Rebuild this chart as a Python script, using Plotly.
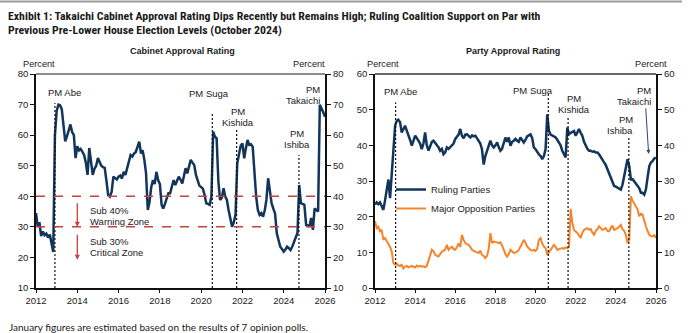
import pandas as pd
import plotly.graph_objects as go

# ---------------- DATA ----------------
months = pd.date_range("2012-01-01", "2026-01-01", freq="MS")  # monthly, Jan 2012 .. Jan 2026

cabinet_approval = [
    # 2012
    34.5, 30.0, 31.5, 27.0, 28.5, 27.3, 27.8, 26.5, 27.5, 25.0, 21.8, 60.0,
    # 2013
    68.0, 70.0, 69.8, 68.5, 64.0, 58.0, 59.5, 61.5, 63.5, 61.0, 60.0, 52.5,
    # 2014
    56.4, 55.0, 55.5, 54.5, 53.5, 51.0, 47.0, 55.8, 51.0, 47.0, 49.0, 50.0,
    # 2015
    52.5, 51.0, 50.0, 49.5, 49.3, 45.0, 40.4, 39.9, 41.5, 46.4, 46.0, 45.5,
    # 2016
    46.4, 46.8, 45.8, 48.0, 47.0, 49.5, 51.0, 53.5, 53.0, 54.0, 54.5, 56.0,
    # 2017
    57.9, 54.0, 55.1, 52.0, 47.6, 35.5, 38.0, 43.0, 45.3, 44.0, 48.0, 45.3,
    # 2018
    44.0, 37.2, 36.0, 37.5, 39.5, 41.0, 41.0, 43.5, 45.3, 43.7, 45.0, 46.4,
    # 2019
    45.5, 44.2, 46.5, 49.2, 47.5, 49.5, 51.9, 51.0, 50.2, 47.0, 44.8, 43.5,
    # 2020
    43.0, 42.5, 40.5, 37.7, 37.5, 37.2, 39.9, 61.1, 59.5, 59.0, 45.0, 38.8,
    # 2021
    39.5, 42.6, 40.0, 38.8, 35.5, 32.5, 30.0, 31.5, 34.0, 50.8, 54.5, 56.5,
    # 2022
    57.3, 52.4, 55.5, 58.4, 56.8, 57.0, 56.2, 46.0, 39.9, 35.5, 33.9, 34.5,
    # 2023
    33.3, 35.5, 38.8, 45.9, 42.0, 37.7, 36.0, 34.4, 27.9, 25.5, 23.5, 22.8,
    # 2024
    21.9, 22.6, 23.5, 23.0, 22.4, 23.6, 25.1, 26.8, 28.0, 43.7, 37.7, 37.5,
    # 2025
    37.2, 30.6, 30.5, 30.0, 32.9, 29.0, 36.0, 35.5, 35.0, 69.9, 68.9, 67.5,
    # 2026
    66.0,
]

ruling_parties = [
    # 2012
    23.4, 24.0, 23.5, 24.0, 23.0, 21.9, 24.5, 27.0, 30.4, 25.2, 32.0, 40.0,
    # 2013
    45.5, 46.9, 47.2, 46.5, 43.6, 44.5, 45.5, 44.1, 43.0, 41.5, 39.9, 41.5,
    # 2014
    42.7, 42.0, 41.3, 40.5, 38.9, 40.5, 43.6, 40.0, 38.5, 40.0, 41.0, 41.3,
    # 2015
    40.8, 40.0, 39.5, 38.5, 39.0, 37.5, 38.0, 39.4, 39.0, 39.5, 39.9, 40.5,
    # 2016
    41.8, 42.5, 43.0, 44.6, 42.7, 42.0, 43.0, 43.1, 42.5, 42.2, 42.8, 42.5,
    # 2017
    42.7, 42.0, 41.3, 40.5, 38.9, 34.6, 37.0, 38.5, 40.0, 41.3, 40.0, 39.4,
    # 2018
    40.0, 40.8, 39.5, 38.5, 39.0, 40.5, 42.2, 41.0, 42.2, 39.9, 41.0, 41.3,
    # 2019
    41.8, 41.3, 41.0, 42.2, 41.5, 40.8, 41.5, 42.5, 42.8, 43.1, 42.0, 39.4,
    # 2020
    38.9, 38.0, 37.5, 37.0, 36.1, 37.0, 38.9, 48.7, 44.0, 43.0, 42.7, 42.5,
    # 2021
    42.2, 41.5, 40.8, 40.0, 38.5, 37.5, 36.6, 45.0, 43.1, 43.5, 43.8, 44.0,
    # 2022
    42.7, 43.5, 44.6, 43.5, 42.7, 41.0, 39.9, 39.0, 38.5, 38.5, 38.2, 38.3,
    # 2023
    38.0, 38.0, 37.5, 36.6, 35.8, 35.2, 34.5, 33.3, 32.5, 31.4, 30.0, 28.6,
    # 2024
    28.4, 28.2, 27.8, 27.6, 29.0, 31.4, 33.5, 36.1, 34.2, 30.4, 30.5, 29.9,
    # 2025
    29.5, 28.6, 28.0, 26.7, 26.7, 26.2, 27.6, 31.0, 34.2, 35.2, 35.6, 36.3,
    # 2026
    36.6,
]

opposition_parties = [
    # 2012
    18.7, 16.8, 17.2, 15.9, 16.3, 13.5, 14.0, 13.2, 12.6, 11.5, 10.2, 7.0,
    # 2013
    6.5, 6.8, 6.3, 6.2, 6.5, 5.5, 6.0, 6.2, 5.8, 6.0, 6.2, 5.9,
    # 2014
    5.8, 6.3, 6.0, 6.2, 6.0, 6.1, 5.8, 6.2, 7.9, 9.5, 10.7, 10.3,
    # 2015
    9.3, 9.0, 8.8, 9.5, 10.2, 10.5, 10.8, 12.1, 10.7, 11.2, 11.6, 10.9,
    # 2016
    10.7, 11.5, 12.5, 11.5, 14.9, 13.5, 12.6, 12.3, 12.1, 11.5, 10.7, 10.4,
    # 2017
    10.2, 10.0, 9.8, 10.5, 9.3, 9.0, 8.4, 9.0, 11.0, 15.4, 12.6, 13.0,
    # 2018
    13.0, 12.8, 12.6, 12.8, 12.0, 10.7, 9.5, 8.8, 9.5, 10.7, 10.2, 9.8,
    # 2019
    10.0, 10.2, 10.7, 11.5, 12.5, 13.5, 12.8, 11.6, 11.0, 10.7, 10.5, 10.7,
    # 2020
    10.4, 11.0, 13.5, 14.0, 12.5, 11.6, 11.2, 9.3, 10.0, 10.7, 11.5, 12.1,
    # 2021
    11.5, 10.7, 10.9, 11.0, 11.2, 11.0, 11.4, 11.2, 11.5, 22.2, 18.2, 16.3,
    # 2022
    15.9, 15.4, 14.8, 14.0, 15.5, 16.3, 16.6, 16.8, 16.3, 16.5, 15.5, 14.9,
    # 2023
    16.0, 16.5, 17.3, 16.8, 16.3, 16.5, 16.8, 16.0, 15.9, 16.8, 17.5, 16.3,
    # 2024
    16.5, 16.8, 17.2, 17.7, 16.5, 16.0, 14.9, 12.6, 13.5, 25.7, 24.5, 23.8,
    # 2025
    22.9, 22.0, 20.1, 20.8, 20.6, 18.5, 17.3, 16.0, 14.9, 14.5, 14.5, 14.8,
    # 2026
    14.0,
]

pm_names = ["Abe", "Suga", "Kishida", "Ishiba"]
pm_dates_cabinet = ["2012-12-01", "2020-07-17", "2021-09-20", "2024-09-27"]
pm_dates_party = ["2013-01-10", "2020-08-20", "2021-08-15", "2024-08-25"]

zone_levels = [40, 30]
year_ticks = [str(y) for y in range(2012, 2027, 2)]

# ---------------- STYLE ----------------
NAVY = "#12355b"
ORANGE = "#f5842a"
RED = "#c8413f"
TXT = "#1a1a1a"
FONT = "Liberation Sans, Arial, sans-serif"

W, H = 690, 333
def px_x(p): return p / W
def px_y(p): return 1 - p / H

L_DOM = [px_x(36), px_x(325)]
R_DOM = [px_x(375), px_x(656)]
Y_DOM = [px_y(288), px_y(74)]

fig = go.Figure()

# cabinet
fig.add_trace(go.Scatter(x=months, y=cabinet_approval, mode="lines",
                         line=dict(color=NAVY, width=2.5), xaxis="x", yaxis="y",
                         showlegend=False, hoverinfo="skip"))
fig.add_trace(go.Scatter(x=months, y=cabinet_approval, mode="lines",
                         line=dict(color="rgba(0,0,0,0)", width=0), xaxis="x", yaxis="y2",
                         showlegend=False, hoverinfo="skip"))
# party
fig.add_trace(go.Scatter(x=months, y=ruling_parties, mode="lines", name="Ruling Parties",
                         line=dict(color=NAVY, width=2.5), xaxis="x2", yaxis="y3"))
fig.add_trace(go.Scatter(x=months, y=opposition_parties, mode="lines",
                         name="Major Opposition Parties",
                         line=dict(color=ORANGE, width=2), xaxis="x2", yaxis="y3"))
fig.add_trace(go.Scatter(x=months, y=ruling_parties, mode="lines",
                         line=dict(color="rgba(0,0,0,0)", width=0), xaxis="x2", yaxis="y4",
                         showlegend=False, hoverinfo="skip"))

# PM dotted lines
cab_tops = [70.5, 67, 62, 53.5]
party_tops = [52, 54.4, 48, 42.3]
for d, top in zip(pm_dates_cabinet, cab_tops):
    fig.add_trace(go.Scatter(x=[d, d], y=[10, top], mode="lines", xaxis="x", yaxis="y",
                             line=dict(color="#111", width=1.2, dash="2px,2px"),
                             showlegend=False, hoverinfo="skip"))
for d, top in zip(pm_dates_party, party_tops):
    fig.add_trace(go.Scatter(x=[d, d], y=[0, top], mode="lines", xaxis="x2", yaxis="y3",
                             line=dict(color="#111", width=1.2, dash="2px,2px"),
                             showlegend=False, hoverinfo="skip"))

# red zone lines
for lv in zone_levels:
    fig.add_trace(go.Scatter(x=[months[0], months[-1]], y=[lv, lv], mode="lines",
                             xaxis="x", yaxis="y",
                             line=dict(color=RED, width=1.5, dash="dash"),
                             showlegend=False, hoverinfo="skip"))

tick_dates = [f"{y}-01-01" for y in year_ticks]
xcommon = dict(type="date", range=["2012-01-01", "2026-01-01"], tickvals=tick_dates,
               ticktext=year_ticks, showline=True, linecolor="#111", linewidth=1.5,
               ticks="outside", ticklen=3, tickcolor="#111", showgrid=False,
               zeroline=False, automargin=False,
               tickfont=dict(family=FONT, size=9.5, color=TXT))
ycommon = dict(showline=True, linecolor="#111", linewidth=1.5, ticks="outside", ticklen=4,
               tickcolor="#111", showgrid=False, zeroline=False, automargin=False,
               tickfont=dict(family=FONT, size=9.5, color=TXT))

fig.update_layout(
    width=W, height=H, margin=dict(l=0, r=0, t=0, b=0, autoexpand=False),
    paper_bgcolor="white", plot_bgcolor="white",
    xaxis=dict(domain=L_DOM, anchor="y", **xcommon),
    yaxis=dict(domain=Y_DOM, anchor="x", range=[10, 80], tickvals=list(range(10, 81, 10)), **ycommon),
    yaxis2=dict(overlaying="y", anchor="x", side="right", range=[10, 80],
                tickvals=list(range(10, 81, 10)), **{**ycommon, "linewidth": 2}),
    xaxis2=dict(domain=R_DOM, anchor="y3", **xcommon),
    yaxis3=dict(domain=Y_DOM, anchor="x2", range=[0, 60], tickvals=list(range(0, 61, 10)), **ycommon),
    yaxis4=dict(overlaying="y3", anchor="x2", side="right", range=[0, 60],
                tickvals=list(range(0, 61, 10)), **{**ycommon, "linewidth": 2}),
    legend=dict(x=px_x(391), y=px_y(175), xanchor="left", yanchor="top",
                bgcolor="rgba(0,0,0,0)", font=dict(family=FONT, size=9.5, color=TXT),
                itemwidth=30, tracegroupgap=0),
    showlegend=True,
)

# top lines of plot frames
fig.add_shape(type="line", xref="x domain", yref="y domain", x0=0, x1=1, y0=1, y1=1,
              line=dict(color="#8c8c8c", width=2))
fig.add_shape(type="line", xref="x2 domain", yref="y3 domain", x0=0, x1=1, y0=1, y1=1,
              line=dict(color="#333", width=1.5))
# top rule of the page
fig.add_shape(type="line", xref="paper", yref="paper", x0=0, x1=px_x(682), y0=px_y(1.5), y1=px_y(1.5),
              line=dict(color="#9a9a9a", width=2))

ann = []
def text(x, y, s, size=9.5, xref="paper", yref="paper", xanchor="center", yanchor="middle",
         bold=False, family=FONT, color=TXT, align="center"):
    ann.append(dict(x=x, y=y, xref=xref, yref=yref, text=f"<b>{s}</b>" if bold else s,
                    showarrow=False, xanchor=xanchor, yanchor=yanchor, align=align,
                    font=dict(family=family, size=size, color=color)))

TITLE_FONT = "Liberation Sans Narrow, Roboto Condensed, Liberation Sans, Arial"
text(px_x(6), px_y(16), "Exhibit 1: Takaichi Cabinet Approval Rating Dips Recently but Remains High; Ruling Coalition Support on Par with",
     size=11.8, xanchor="left", bold=True, family=TITLE_FONT)
text(px_x(6), px_y(29.5), "Previous Pre-Lower House Election Levels (October 2024)",
     size=11.8, xanchor="left", bold=True, family=TITLE_FONT)

text(px_x(182), px_y(51), "Cabinet Approval Rating", size=9, bold=True)
text(px_x(513), px_y(51), "Party Approval Rating", size=9, bold=True)

text(px_x(39), px_y(64), "Percent", size=9.2)
text(px_x(327), px_y(64), "Percent", xanchor="right", size=9.2)
text(px_x(383), px_y(64), "Percent", size=9.2)
text(px_x(669), px_y(64), "Percent", xanchor="right", size=9.2)

text(px_x(7), px_y(327), "January figures are estimated based on the results of 7 opinion polls.",
     size=10, xanchor="left", family="Lato, Open Sans, sans-serif")

def lab(x, y, lines, xr, yr, xanchor="center"):
    n = len(lines)
    for i, l in enumerate(lines):
        off = (i - (n - 1) / 2) * 11
        ann.append(dict(x=x, y=y, xref=xr, yref=yr, text=l, showarrow=False,
                        xanchor=xanchor, yanchor="middle", yshift=-off,
                        font=dict(family=FONT, size=9.5, color=TXT)))

lab("2013-05-25", 73.9, ["PM Abe"], "x", "y")
lab("2020-05-15", 73.7, ["PM Suga"], "x", "y")
lab("2021-10-20", 65.9, ["PM", "Kishida"], "x", "y")
lab("2024-08-15", 58.8, ["PM", "Ishiba"], "x", "y")
lab("2025-11-01", 73.2, ["PM", "Takaichi"], "x", "y", xanchor="right")

lab("2013-04-01", 55.0, ["PM Abe"], "x2", "y3")
lab("2019-11-20", 55.5, ["PM Suga"], "x2", "y3")
lab("2021-12-05", 51.5, ["PM", "Kishida"], "x2", "y3")
lab("2024-12-20", 45.6, ["PM", "Ishiba"], "x2", "y3", xanchor="right")
lab("2025-11-10", 53.8, ["PM", "Takaichi"], "x2", "y3", xanchor="right")

lab("2014-07-10", 33.55, ["Sub 40%", "Warning Zone"], "x", "y", xanchor="left")
lab("2014-07-10", 23.25, ["Sub 30%", "Critical Zone"], "x", "y", xanchor="left")

for y_head, y_tail in [(30.0, 38.2), (19.2, 27.9)]:
    ann.append(dict(x="2014-01-01", y=y_head, xref="x", yref="y", ax="2014-01-01", ay=y_tail,
                    axref="x", ayref="y", text="", showarrow=True, arrowhead=2,
                    arrowsize=0.8, arrowwidth=1.3, arrowcolor=RED))

ann.append(dict(x="2025-08-20", y=37.6, xref="x2", yref="y3", ax=-3, ay=-47,
                text="", showarrow=True, arrowhead=2, arrowsize=0.8, arrowwidth=1,
                arrowcolor="#2b4a6b"))

fig.update_layout(annotations=ann)
fig.write_html("out.html")
